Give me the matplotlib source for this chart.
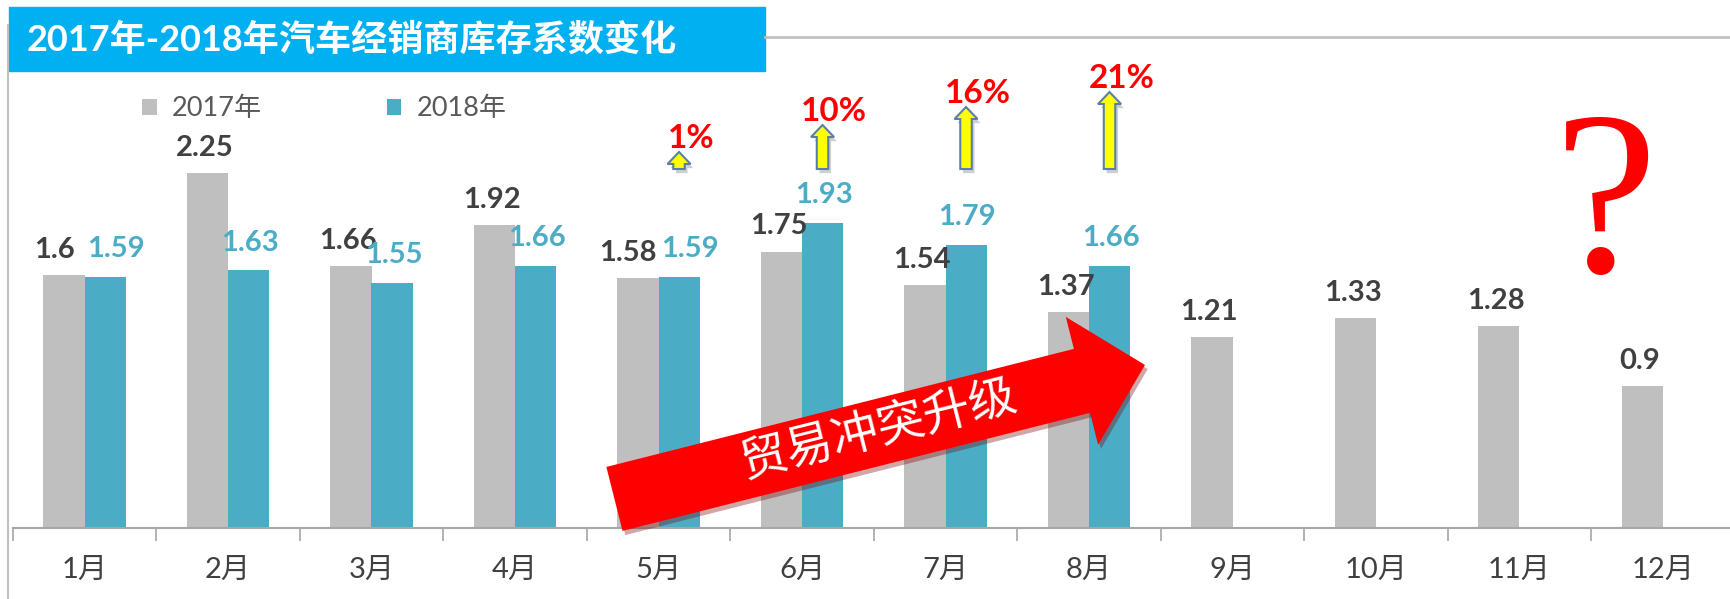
import numpy as np
import matplotlib
matplotlib.use('Agg')
import matplotlib.pyplot as plt
import matplotlib.patheffects as pe
from matplotlib.patches import Rectangle, FancyArrow
from matplotlib.lines import Line2D

plt.rcParams['font.family'] = ['Lato', 'Noto Sans CJK SC']

# data
months = ['1月', '2月', '3月', '4月', '5月', '6月', '7月', '8月', '9月', '10月', '11月', '12月']
v2017 = [1.6, 2.25, 1.66, 1.92, 1.58, 1.75, 1.54, 1.37, 1.21, 1.33, 1.28, 0.9]
v2018 = [1.59, 1.63, 1.55, 1.66, 1.59, 1.93, 1.79, 1.66]
growth = [1, 10, 16, 21]          # 5月-8月 year-on-year
growth_months = [4, 5, 6, 7]
title = '2017年-2018年汽车经销商库存系数变化'
banner = '贸易冲突升级'

GRAY = '#BFBFBF'
TEAL = '#4BACC6'
DARK = '#404040'

W, H = 1731, 599
fig = plt.figure(figsize=(W / 100, H / 100), dpi=100)

PXU = 158.0  # pixels per unit on y
ax = fig.add_axes([12.75 / W, 1 - 528 / H, 1722 / W, 528 / H])

x = np.arange(len(months))
bw = 0.286
b17 = ax.bar(x - bw / 2, v2017, bw, color=GRAY, label='2017年', zorder=2)
b18 = ax.bar(x[:len(v2018)] + bw / 2, v2018, bw, color=TEAL, label='2018年', zorder=2)

for s in ['top', 'right', 'left']:
    ax.spines[s].set_visible(False)
ax.spines['bottom'].set_color('#A6A6A6')
ax.spines['bottom'].set_linewidth(1.5)
ax.set_yticks([])
ax.set_xticks(x, months)
ax.set_xticks(np.arange(-0.5, len(months), 1), minor=True)
ax.tick_params(axis='x', which='major', length=0, pad=21, labelsize=21, labelcolor=DARK)
ax.tick_params(axis='x', which='minor', length=9.5, width=1.2, color='#A6A6A6')
ax.set_xlim(-0.5, 11.5)
ax.set_ylim(0, 528 / PXU)

# value labels
for i, v in enumerate(v2017):
    dx = -2
    if i < len(v2018) and abs(v - v2018[i]) < 0.05:
        dx = -7
    ax.annotate(f'{v:g}', (i - bw / 2, v), xytext=(dx, 18), textcoords='offset points',
                ha='center', va='center', fontsize=21, fontweight='bold', color=DARK)
for i, v in enumerate(v2018):
    dx = 1
    if abs(v - v2017[i]) < 0.05:
        dx = 8
    ax.annotate(f'{v:g}', (i + bw / 2, v), xytext=(dx, 20), textcoords='offset points',
                ha='center', va='center', fontsize=21, fontweight='bold', color=TEAL)

# small yellow arrows with growth
shadow = [pe.SimplePatchShadow(offset=(2, -3), shadow_rgbFace='#888888', alpha=0.4), pe.Normal()]
y0 = (528 - 169) / PXU
for i, p in zip(growth_months, growth):
    xc = i + bw / 2
    L = (14 + 3 * p) / PXU
    ax.add_patch(FancyArrow(xc, y0, 0, L, width=11.5 / 143.5, head_width=23 / 143.5,
                            head_length=12 / PXU, length_includes_head=True,
                            fc='#FFFF00', ec='#5A7DAA', lw=1.5, zorder=4, path_effects=shadow))
    ax.annotate(f'{p}%', (xc, y0 + L), xytext=(8.5, 10), textcoords='offset points',
                ha='center', va='center', color='#FF0000', fontsize=24, fontweight='bold', zorder=5)

# big red arrow
ax.annotate('', xy=(7.39, 1.032), xytext=(3.693, 0.184),
            arrowprops=dict(arrowstyle='simple,head_length=0.985,head_width=2.0,tail_width=1.0',
                            mutation_scale=47.5, fc='#FF0000', ec='none', shrinkA=0, shrinkB=0,
                            path_effects=[pe.SimplePatchShadow(offset=(2, -3), shadow_rgbFace='#7a0000', alpha=0.35), pe.Normal()]),
            zorder=6)
ax.text(5.54, 0.62, banner, rotation=14.1, rotation_mode='anchor', ha='center', va='center',
        color='white', fontsize=34, family='Noto Sans CJK SC', zorder=7)

# question mark
ax.text(10.6, 1.62, '?', family='Liberation Serif', fontsize=168, color='#FF0000',
        ha='center', va='baseline')

# frame and title banner
fig.add_artist(Line2D([8 / W, 8 / W], [1 - 25 / H, 0], color='#BFBFBF', lw=1.5))
fig.add_artist(Line2D([765 / W, 1], [1 - 37 / H, 1 - 37 / H], color='#BFBFBF', lw=2))
fig.add_artist(Rectangle((9 / W, 1 - 71 / H), (765 - 9) / W, 64 / H,
                         transform=fig.transFigure, color='#00B0F0'))
fig.text(27 / W, 1 - 39 / H, title, color='white', fontsize=26, fontweight='bold', va='center')

fig.legend(handles=[b17, b18], loc='center left', bbox_to_anchor=(142 / W, 1 - 109 / H),
           ncol=2, frameon=False, fontsize=19.5, handlelength=0.55, handleheight=0.55,
           handletextpad=0.55, columnspacing=4.6, borderpad=0, borderaxespad=0,
           labelcolor='#595959')

fig.savefig('out.png', dpi=100)
